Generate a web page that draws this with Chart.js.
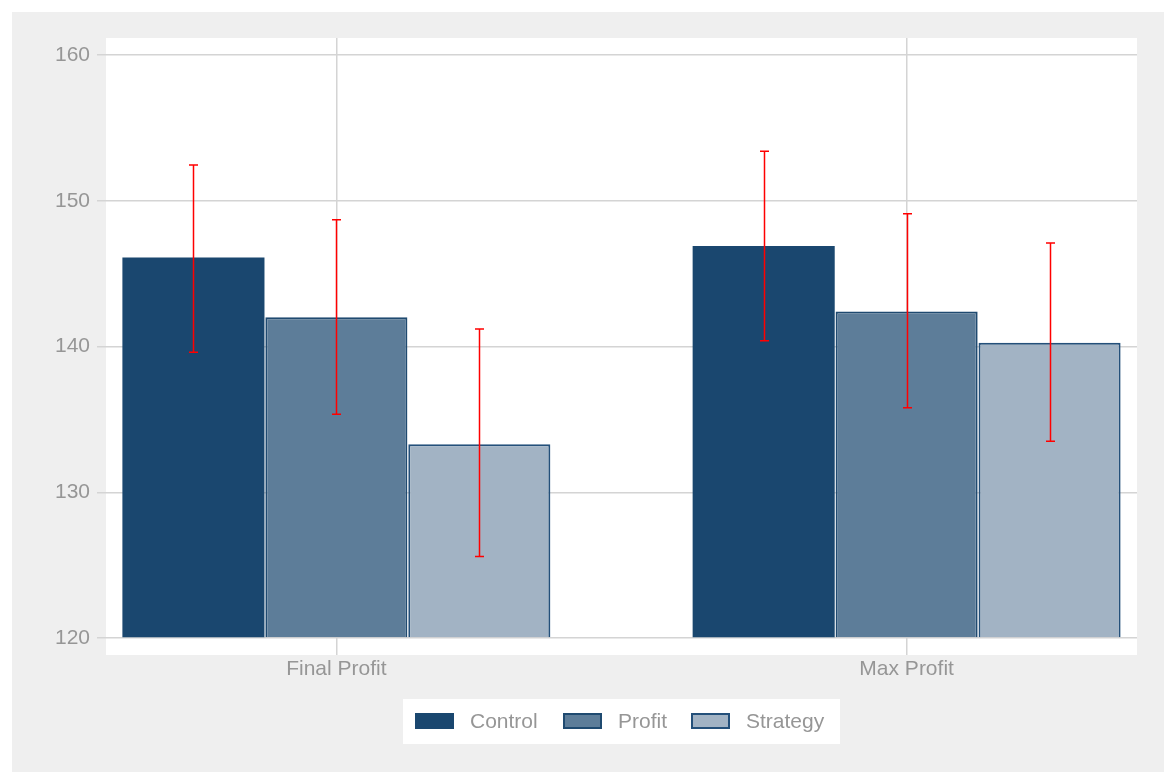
<!DOCTYPE html>
<html>
<head>
<meta charset="utf-8">
<script src="https://cdn.jsdelivr.net/npm/chart.js@4"></script>
<style>
  html, body { margin: 0; padding: 0; background: #fff; }
  #wrap { width: 1165px; height: 772px; position: relative; }
</style>
</head>
<body>
<div id="wrap"><canvas id="chart"></canvas></div>
<script>
// categories and groups
const categories = ["Final Profit", "Max Profit"];
const groups = ["Control", "Profit", "Strategy"];

// mean values per group (Final Profit, Max Profit)
const controlMeans = [146.1, 146.9];
const profitMeans = [142.0, 142.4];
const strategyMeans = [133.3, 140.25];

// confidence interval bounds
const controlLow = [139.6, 140.4];
const controlHigh = [152.45, 153.4];
const profitLow = [135.35, 135.8];
const profitHigh = [148.7, 149.1];
const strategyLow = [125.6, 133.5];
const strategyHigh = [141.2, 147.1];

const yTicks = [120, 130, 140, 150, 160];

const fills = ["#1a476f", "#5d7d99", "#a2b3c4"];
const borders = ["#1a476f", "#1f4a70", "#24507a"];
const textColor = "#969696";
const gridColor = "#d4d4d4";
const font = "'Liberation Sans', Arial, Helvetica, sans-serif";

const means = [controlMeans, profitMeans, strategyMeans];
const lows = [controlLow, profitLow, strategyLow];
const highs = [controlHigh, profitHigh, strategyHigh];

const datasets = groups.map((g, i) => ({
  label: g,
  data: means[i].map((v, j) => ({ x: j, y: v })),
  backgroundColor: fills[i],
  borderColor: borders[i],
  borderWidth: i === 0 ? 0 : 2,
  base: 120,
  categoryPercentage: 0.752,
  barPercentage: 0.994,
  lo: lows[i],
  hi: highs[i]
}));

// gray page + white plot region
const backdrop = {
  id: "backdrop",
  beforeDraw(chart) {
    const { ctx, chartArea: a } = chart;
    ctx.save();
    ctx.fillStyle = "#efefef";
    ctx.fillRect(12, 12, chart.width - 13, chart.height - 12);
    ctx.fillStyle = "#ffffff";
    ctx.fillRect(a.left, a.top, a.right - a.left, a.bottom - a.top);
    ctx.restore();
  }
};

// red CI whiskers
const whiskers = {
  id: "whiskers",
  afterDatasetsDraw(chart) {
    const { ctx } = chart;
    const y = chart.scales.y;
    ctx.save();
    ctx.strokeStyle = "#ff0000";
    ctx.lineWidth = 1.5;
    chart.data.datasets.forEach((ds, i) => {
      chart.getDatasetMeta(i).data.forEach((bar, j) => {
        const x = Math.round(bar.x) + 0.5;
        const top = y.getPixelForValue(ds.hi[j]);
        const bot = y.getPixelForValue(ds.lo[j]);
        ctx.beginPath();
        ctx.moveTo(x, top); ctx.lineTo(x, bot);
        ctx.moveTo(x - 4.5, top); ctx.lineTo(x + 4.5, top);
        ctx.moveTo(x - 4.5, bot); ctx.lineTo(x + 4.5, bot);
        ctx.stroke();
      });
    });
    ctx.restore();
  }
};

// boxed legend under the plot
const keyBox = {
  id: "keyBox",
  afterDraw(chart) {
    const { ctx } = chart;
    ctx.save();
    ctx.fillStyle = "#ffffff";
    ctx.fillRect(403, 699, 437, 45);
    const starts = [415, 563, 691];
    ctx.font = "21px " + font;
    ctx.textBaseline = "middle";
    chart.data.datasets.forEach((ds, i) => {
      const x = starts[i];
      ctx.fillStyle = ds.backgroundColor;
      ctx.fillRect(x, 713, 39, 16);
      if (ds.borderWidth) {
        ctx.strokeStyle = ds.borderColor;
        ctx.lineWidth = 2;
        ctx.strokeRect(x + 1, 714, 37, 14);
      }
      ctx.fillStyle = textColor;
      ctx.fillText(ds.label, x + 55, 722);
    });
    ctx.restore();
  }
};

new Chart(document.getElementById("chart"), {
  type: "bar",
  data: { datasets },
  plugins: [backdrop, whiskers, keyBox],
  options: {
    responsive: true,
    maintainAspectRatio: false,
    animation: false,
    layout: { padding: { top: 38, right: 28, left: 0, bottom: 0 } },
    plugins: {
      legend: { display: false },
      tooltip: { enabled: false }
    },
    scales: {
      x: {
        type: "linear",
        offset: false,
        min: -0.404,
        max: 1.404,
        afterBuildTicks: s => { s.ticks = categories.map((c, i) => ({ value: i })); },
        afterFit: s => { s.height = 117; },
        border: { display: false },
        grid: { offset: false, color: gridColor, lineWidth: 1.5, drawTicks: false },
        ticks: {
          padding: 2,
          color: textColor,
          font: { size: 21, family: font },
          callback: v => categories[v]
        }
      },
      y: {
        min: 118.834,
        max: 161.166,
        afterBuildTicks: s => { s.ticks = yTicks.map(v => ({ value: v })); },
        afterFit: s => { s.width = 106; },
        border: { display: false },
        grid: { color: gridColor, lineWidth: 1.5, tickLength: 9 },
        ticks: {
          padding: 7,
          color: textColor,
          font: { size: 21, family: font }
        }
      }
    }
  }
});
</script>
</body>
</html>
